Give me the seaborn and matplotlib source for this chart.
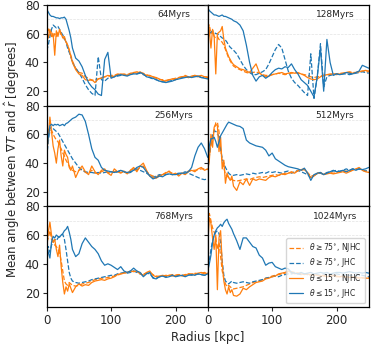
import numpy as np
import matplotlib
matplotlib.use("Agg")
import matplotlib.pyplot as plt
import seaborn as sns

# radius sampling [kpc]
radius = [0, 2.5, 5, 7.5, 10, 12.5, 15, 17.5, 20, 22.5, 25, 27.5, 30, 32.5, 35, 37.5, 40,
          45, 50, 55, 60, 65, 70, 75, 80, 85, 90, 95, 100,
          105, 110, 115, 120, 125, 130, 135, 140, 145, 150,
          155, 160, 165, 170, 175, 180, 185, 190, 195, 200,
          205, 210, 215, 220, 225, 230, 235, 240, 245, 250]

times = ["64Myrs", "128Myrs", "256Myrs", "512Myrs", "768Myrs", "1024Myrs"]
labels = [r"$\theta \geq 75^{\circ}$, NJHC", r"$\theta \geq 75^{\circ}$, JHC",
          r"$\theta \leq 15^{\circ}$, NJHC", r"$\theta \leq 15^{\circ}$, JHC"]

# ---- 64 Myrs
ge75_njhc_64 = [60, 64, 59, 62, 57, 60, 58, 61, 62, 59, 58, 56, 55, 52, 48, 45, 41,
                36, 33, 32.5, 30, 29, 27.5, 28, 28.5, 29.5, 30, 30.5, 31,
                31, 32, 31.5, 32, 31.5, 32.5, 33, 33.5, 33, 32.5,
                31.5, 30.5, 30, 29, 28, 28, 27.5, 28, 28.5, 29,
                29.5, 30, 31, 30, 30.5, 31, 30, 30.5, 30, 30]
ge75_jhc_64 = [48, 52, 58, 63, 66, 65, 64, 65, 63, 61, 59, 57, 54, 50, 47, 44, 40,
               36, 33, 29, 24.5, 21, 18.5, 17, 44, 28, 27, 29, 30,
               30, 30.5, 31, 31.5, 31, 32, 32.5, 32, 32.5, 31.5,
               30.5, 29.5, 28.5, 28, 27, 26.5, 26.5, 27, 27.5, 28,
               29, 29.5, 30, 29.5, 30, 30.5, 30, 29.5, 29.5, 29]
le15_njhc_64 = [62, 57, 63, 58, 60, 45, 62, 58, 63, 60, 57, 58, 54, 52, 49, 44, 40,
                35, 32, 31, 28, 27.5, 28, 26, 28.5, 29, 30, 31, 30,
                30.5, 31.5, 32, 31.5, 31, 32, 33, 32.5, 33.5, 32,
                31, 31, 30, 29.5, 28.5, 27.5, 27, 28, 28.5, 28,
                29.5, 30, 30.5, 29.5, 30, 31, 30.5, 31, 30, 29.5]
le15_jhc_64 = [77, 75, 73, 72, 72, 71.5, 71, 71, 70.5, 71, 71, 71.5, 70, 66, 62, 57, 50,
               43, 41, 37, 31, 26, 23, 21, 18, 17, 42, 47, 29,
               30, 31, 31.5, 31, 30.5, 31.5, 32, 32, 33, 32,
               30, 29.5, 29, 28, 27, 26.5, 26, 26.5, 27, 28,
               28.5, 29, 29.5, 30, 29.5, 30, 30.5, 29.5, 29, 28.5]

# ---- 128 Myrs
ge75_njhc_128 = [63, 66, 60, 62, 58, 57, 58, 56, 55, 54, 52, 49, 46, 43, 41, 39, 37.5,
                 36, 35, 34, 33, 32.5, 33, 33.5, 32.5, 31.5, 31, 31, 31.5,
                 32, 32.5, 32, 31.5, 32, 32.5, 33, 32.5, 32, 31.5,
                 31, 30, 29.5, 30, 30.5, 31, 31.5, 31.5, 32, 32,
                 32.5, 32.5, 33, 33.5, 33, 33, 33.5, 34, 33.5, 33.5]
ge75_jhc_128 = [56, 60, 61, 62, 61, 60, 60, 59, 58, 57, 56.5, 55.5, 54, 52, 50.5, 49.5, 48.5,
                46, 42, 38, 35, 33, 31.5, 31.5, 32.5, 33.5, 35, 39, 44,
                49, 52.5, 50, 42, 34, 29, 26, 24, 21.5, 19,
                17, 46, 15, 30, 53, 23, 30, 31, 31.5, 32,
                31.5, 32, 32, 31.5, 32, 32.5, 33, 33.5, 33, 32.5]
le15_njhc_128 = [68, 62, 50, 63, 58, 32, 60, 61, 62, 65, 56, 50, 47, 44, 42, 40, 38.5,
                 37, 35.5, 35, 34, 33, 36, 39, 33, 31, 30, 30.5, 31.5,
                 32, 32.5, 33, 32, 32.5, 33, 32.5, 33, 32, 31,
                 29.5, 28.5, 28, 28.5, 30, 31, 31.5, 32, 32, 31.5,
                 32, 32.5, 33, 33, 32.5, 33, 33.5, 34, 34.5, 34]
le15_jhc_128 = [78, 76, 75, 74, 73, 73, 72.5, 72, 72.5, 73, 72, 72, 71.5, 71, 70.5, 70, 69,
                68, 66, 62, 52, 40, 31, 27, 30, 31, 29, 30.5, 33,
                35, 36, 35.5, 37, 36.5, 39, 35, 32, 28, 26,
                24, 20, 16, 30, 50, 20, 56, 40, 31, 32,
                31.5, 32, 33, 32.5, 32, 33, 34, 38, 37, 36]

# ---- 256 Myrs
ge75_njhc_256 = [55, 64, 61, 63, 60, 58, 56, 55, 52, 50, 47, 45, 42, 40, 38, 36, 35,
                 34, 35, 36, 33.5, 33, 35, 33, 33, 34, 35, 33.5, 33,
                 34, 34.5, 33.5, 34, 33, 35, 36, 35, 37, 38,
                 34, 32, 31, 30.5, 31.5, 32, 33.5, 34, 33, 32.5,
                 32, 33, 33, 34.5, 35, 35, 35.5, 36, 36, 35.5]
ge75_jhc_256 = [44, 55, 64, 65, 64, 63, 62, 61, 59, 57, 55, 53, 51, 49, 47, 45, 43,
                40, 37, 35, 34, 33.5, 33.5, 33, 33.5, 33, 33.5, 34, 34,
                33.5, 34, 35, 34, 33, 33.5, 35, 36, 35, 34,
                33, 31.5, 30, 31, 32, 31.5, 32, 32.5, 32, 32.5,
                33, 33, 34, 33, 32, 31, 30, 29, 28.5, 29]
le15_njhc_256 = [47, 58, 72, 62, 52, 47, 40, 50, 56, 45, 38, 49, 46, 44, 37, 35, 38,
                 30, 35, 38, 34, 32, 38, 34, 32, 35, 36, 33, 31.5,
                 36, 34, 33, 34.5, 32.5, 35, 37, 34, 38, 40,
                 35, 31, 30, 29.5, 31, 32, 33, 34.5, 32, 33,
                 31, 33, 32, 34, 35, 34, 36, 37, 35, 36]
le15_jhc_256 = [49, 58, 66, 67, 66, 67, 66.5, 67, 66, 66.5, 67, 66, 67.5, 68, 69, 70, 71,
                72, 74, 73.5, 69, 60, 50, 44, 42, 37, 35, 34.5, 34,
                33.5, 34, 35, 34, 33.5, 34, 35, 37, 38, 37,
                34, 31, 29, 30, 31, 30.5, 32, 32.5, 32, 32,
                32.5, 33, 33, 34, 37, 45, 51, 54, 50, 44]

# ---- 512 Myrs
ge75_njhc_512 = [38, 45, 52, 58, 63, 68, 68.5, 62, 50, 41, 37, 32, 31, 30, 29, 28.5, 28,
                 27.5, 28, 28.5, 29, 28.5, 29.5, 30, 30.5, 30, 30.5, 31, 31.5,
                 32, 31.5, 32, 33, 33, 34, 33.5, 34.5, 35, 35.5,
                 33.5, 31, 31.5, 33, 33, 32.5, 33, 33.5, 33, 33.5,
                 34, 34, 34.5, 34, 35.5, 36, 36, 35, 34.5, 34]
ge75_jhc_512 = [34, 45, 55, 60, 62.5, 62, 61, 58, 50, 43, 40, 37, 35, 33, 32, 31.5, 31.5,
                32, 31.5, 32, 32.5, 32, 33, 32.5, 33, 33.5, 33, 34, 33.5,
                34, 33.5, 33, 34, 34.5, 33, 34, 35, 34, 33,
                32, 30, 31.5, 32.5, 33, 32, 33.5, 34, 34.5, 35,
                34, 35, 36, 35, 36, 35.5, 36, 35, 34.5, 35]
le15_njhc_512 = [35, 42, 60, 51, 65, 67, 66, 48, 58, 36, 42, 26, 33, 30, 28, 31, 24,
                 21, 27, 25, 29, 24.5, 29, 28, 29, 28.5, 28, 30, 31,
                 30.5, 31.5, 32.5, 32, 33, 33.5, 33, 35, 35.5, 36,
                 33, 30, 31, 33, 33.5, 32, 32.5, 33, 32.5, 33,
                 33.5, 34, 33, 34, 35, 36, 37, 35, 34, 33.5]
le15_jhc_512 = [40, 52, 57, 57, 58, 55, 51, 55, 59, 61, 63, 65, 67, 68.5, 68, 67.5, 67,
                66, 65.5, 64, 56, 54, 53, 52, 51.5, 51, 49, 45, 47,
                43, 41.5, 40, 38.5, 37.5, 37, 36.5, 36, 35, 36.5,
                33, 28, 32, 33, 33.5, 32, 33, 34, 35, 34,
                34.5, 35, 34, 35, 36, 35, 36, 35.5, 36, 37]

# ---- 768 Myrs
ge75_njhc_768 = [55, 58, 63, 57, 55, 53, 52, 50, 48, 42, 35, 28, 26, 25, 27, 26, 25,
                 24.5, 25, 26, 26.5, 27, 28, 29, 29.5, 30, 30, 30.5, 31,
                 31.5, 32, 33, 33.5, 34, 34.5, 35, 34.5, 33.5, 33,
                 33.5, 34, 32.5, 31.5, 31, 31.5, 32, 32, 32.5, 32,
                 32.5, 32, 32.5, 33, 33, 33.5, 33, 33.5, 34, 33.5]
ge75_jhc_768 = [50, 52, 48, 53, 55, 57, 56, 58, 59, 60, 60.5, 57, 50, 42, 34, 30, 28,
                27, 26.5, 27, 27.5, 28, 29, 29.5, 30, 30.5, 31, 31.5, 32,
                32, 33, 33.5, 34, 33.5, 34, 35, 34, 33, 32,
                33.5, 33, 30.5, 30, 31, 31.5, 31, 31.5, 32, 31.5,
                32, 32, 31.5, 32.5, 32, 32.5, 33, 32.5, 32, 32.5]
le15_njhc_768 = [50, 62, 69, 60, 55, 57, 50, 45, 53, 38, 27, 19, 24, 21, 26, 23, 20,
                 24, 26, 24.5, 25.5, 25, 27, 28, 28.5, 29, 28.5, 29.5, 30,
                 31, 32.5, 33, 33.5, 34, 35, 34.5, 35, 33, 32,
                 34, 35, 32, 31, 31.5, 32, 31.5, 32, 31.5, 32,
                 32.5, 31.5, 32, 33, 32.5, 33, 33.5, 34, 33, 33.5]
le15_jhc_768 = [54, 48, 44, 55, 59, 58, 60, 59, 58.5, 60, 61, 63, 64, 66, 62, 57, 50,
                45, 47, 54, 58, 55, 52, 50, 47, 42, 39, 40, 39,
                37.5, 36, 38, 35, 34, 35, 37, 35, 34, 31,
                33, 34, 30, 29.5, 31, 31.5, 30.5, 31, 32, 31,
                31.5, 32, 31, 32, 32.5, 32, 33, 32.5, 32, 33]

# ---- 1024 Myrs
ge75_njhc_1024 = [60, 75, 70, 65, 62, 58, 50, 55, 45, 35, 30, 26, 24, 25, 24, 23, 22.5,
                  23, 23.5, 24, 25, 26, 27, 27.5, 28, 29, 30, 30.5, 31.5,
                  32, 32.5, 33, 33.5, 34, 34.5, 34, 33.5, 33, 33,
                  32.5, 32.5, 32, 32, 31.5, 31.5, 31, 31.5, 31.5, 31,
                  31, 31, 30.5, 30.5, 31, 30.5, 30.5, 30, 30, 30.5]
ge75_jhc_1024 = [38, 42, 50, 56, 60, 62, 63, 61, 55, 42, 32, 28, 27, 26, 27, 28, 27,
                 26.5, 27, 27.5, 27, 26.5, 27.5, 28, 28.5, 29, 30, 30.5, 31,
                 31.5, 31, 32, 32.5, 33, 33, 33.5, 33, 32.5, 33,
                 32.5, 32, 33, 32.5, 32, 33, 32.5, 32, 32.5, 33,
                 32.5, 32, 32.5, 32, 31.5, 32, 32.5, 32, 31.5, 31]
le15_njhc_1024 = [53, 72, 68, 58, 50, 60, 22, 58, 63, 40, 28, 22, 19, 24, 20, 22, 18,
                  17.5, 19, 23, 22, 24, 25.5, 27, 27.5, 28, 29.5, 30, 31,
                  31.5, 33, 33.5, 34, 35, 34, 33, 33.5, 33, 32.5,
                  33, 32, 32.5, 32, 31.5, 32, 31, 31.5, 32, 31.5,
                  31, 31.5, 31, 30.5, 31, 30.5, 30, 30.5, 30, 30]
le15_jhc_1024 = [35, 40, 46, 55, 60, 63, 65, 66, 67.5, 66, 68.5, 70, 71, 68, 66, 64, 61,
                 56, 50, 58, 58, 55, 52, 51, 46, 44, 39, 40.5, 41,
                 38, 37, 36, 37, 36.5, 34, 33.5, 33, 34, 33,
                 33.5, 34, 33, 33.5, 34, 33.5, 34, 33, 33.5, 34,
                 34, 33.5, 34, 34.5, 34, 33.5, 34, 33.5, 34, 33.5]

panels = [
    (ge75_njhc_64, ge75_jhc_64, le15_njhc_64, le15_jhc_64),
    (ge75_njhc_128, ge75_jhc_128, le15_njhc_128, le15_jhc_128),
    (ge75_njhc_256, ge75_jhc_256, le15_njhc_256, le15_jhc_256),
    (ge75_njhc_512, ge75_jhc_512, le15_njhc_512, le15_jhc_512),
    (ge75_njhc_768, ge75_jhc_768, le15_njhc_768, le15_jhc_768),
    (ge75_njhc_1024, ge75_jhc_1024, le15_njhc_1024, le15_jhc_1024),
]

sns.set_style("ticks")
plt.rcParams['font.family'] = ['DejaVu Sans']

colors = ['#ff7f0e', '#1f77b4', '#ff7f0e', '#1f77b4']
styles = ['--', '--', '-', '-']

fig, axes = plt.subplots(3, 2, figsize=(3.89, 3.5), dpi=100, sharex=True, sharey=True)
fig.subplots_adjust(left=0.12, right=0.948, top=0.986, bottom=0.123, hspace=0, wspace=0)

for i, ax in enumerate(axes.flat):
    for y in (60, 70):
        ax.axhline(y, color='#e3e3e3', lw=0.5, ls='--', zorder=0)
    for j in range(4):
        sns.lineplot(x=radius, y=panels[i][j], ax=ax, color=colors[j], linestyle=styles[j],
                     lw=0.9, estimator=None, label=labels[j] if i == 5 else None)
    ax.text(0.79, 0.9, times[i], transform=ax.transAxes, ha='center', va='center', fontsize=6.5)
    ax.set_xlim(0, 250)
    ax.set_ylim(10, 80)
    ax.set_yticks([20, 40, 60, 80])
    ax.set_xticks([0, 100, 200])
    ax.tick_params(labelsize=8.5, length=3, width=0.8, pad=2)
    for sp in ax.spines.values():
        sp.set_linewidth(0.9)
        sp.set_color('black')
    ax.set_xlabel('')
    ax.set_ylabel('')

axes[2, 1].legend(loc='lower right', fontsize=5.5, frameon=True, handlelength=1.8,
                  borderpad=0.4, labelspacing=0.3, framealpha=0.8)

fig.text(0.535, 0.035, 'Radius [kpc]', ha='center', va='center', fontsize=8.5)
fig.text(0.03, 0.545, r'Mean angle between $\nabla T$ and $\hat{r}$ [degrees]',
         rotation=90, ha='center', va='center', fontsize=8.5)

fig.savefig('out.png', dpi=100)
